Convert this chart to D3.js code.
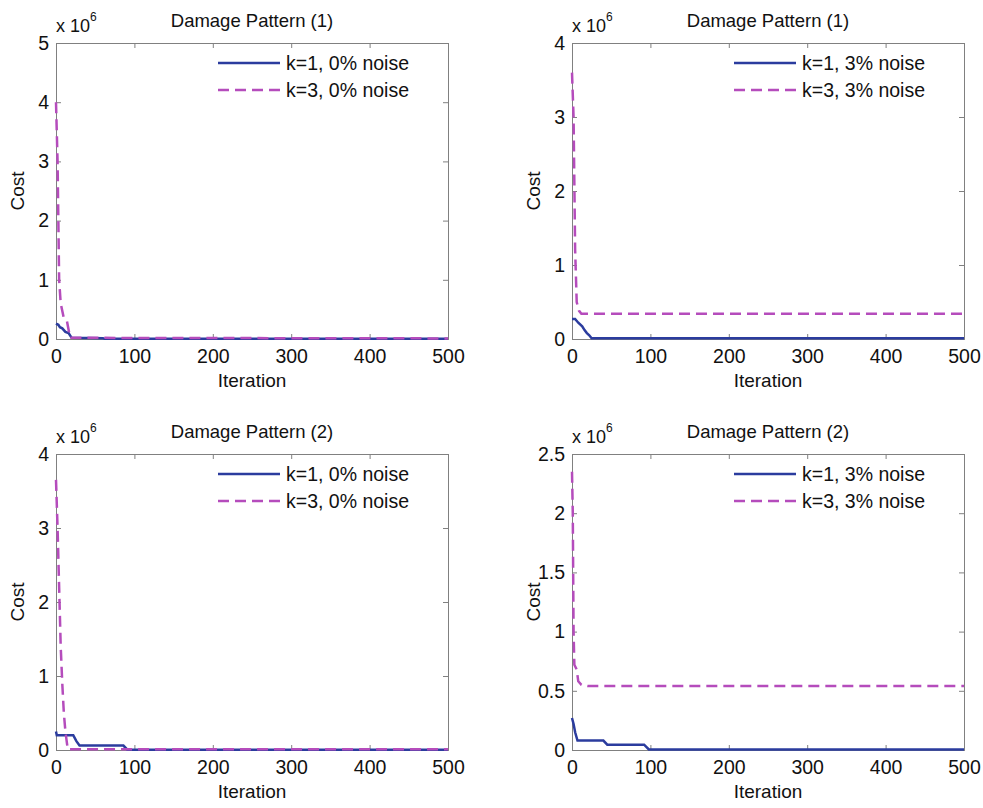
<!DOCTYPE html>
<html>
<head>
<meta charset="utf-8">
<script src="https://cdn.jsdelivr.net/npm/d3@7"></script>
<style>
  body { margin: 0; background: #fff; }
  svg text { font-family: "Liberation Sans", Arial, sans-serif; fill: #111; }
  .axis path, .axis line { stroke: #808080; }
</style>
</head>
<body>
<div class="chart"></div>
<script>
// Data (cost in units of 10^6)
const iterTicks = [0, 100, 200, 300, 400, 500];
const titles = ["Damage Pattern (1)", "Damage Pattern (1)", "Damage Pattern (2)", "Damage Pattern (2)"];
const yMaxes = [5, 4, 4, 2.5];
const yTicks1 = [0, 1, 2, 3, 4, 5];
const yTicks2 = [0, 1, 2, 3, 4];
const yTicks3 = [0, 1, 2, 3, 4];
const yTicks4 = [0, 0.5, 1, 1.5, 2, 2.5];
const legendK1 = ["k=1, 0% noise", "k=1, 3% noise", "k=1, 0% noise", "k=1, 3% noise"];
const legendK3 = ["k=3, 0% noise", "k=3, 3% noise", "k=3, 0% noise", "k=3, 3% noise"];

// [iteration, cost]
const p1k1 = [[0,0.26],[3,0.24],[5,0.2],[8,0.18],[12,0.12],[16,0.1],[20,0.02],[60,0.012],[62,0.003],[500,0.003]];
const p1k3 = [[0,4.0],[2,3.0],[4,1.0],[6,0.6],[10,0.35],[14,0.3],[18,0.02],[500,0.01]];
const p2k1 = [[0,0.27],[4,0.27],[8,0.22],[13,0.17],[16,0.12],[19,0.08],[22,0.05],[25,0.01],[500,0.01]];
const p2k3 = [[0,3.6],[2,3.0],[4,1.2],[6,0.5],[9,0.38],[12,0.34],[500,0.34]];
const p3k1 = [[0,0.25],[1,0.2],[22,0.2],[26,0.12],[30,0.06],[86,0.06],[91,0.005],[500,0.005]];
const p3k3 = [[0,3.65],[2,3.0],[4,2.2],[6,1.4],[8,0.9],[10,0.5],[12,0.25],[15,0.01],[500,0.01]];
const p4k1 = [[0,0.27],[2,0.22],[4,0.15],[7,0.08],[40,0.08],[45,0.045],[92,0.045],[98,0.005],[500,0.005]];
const p4k3 = [[0,2.35],[1,2.0],[2,1.0],[3,0.72],[6,0.68],[8,0.58],[12,0.55],[20,0.54],[500,0.54]];

const seriesK1 = [p1k1, p2k1, p3k1, p4k1];
const seriesK3 = [p1k3, p2k3, p3k3, p4k3];
const yTickSets = [yTicks1, yTicks2, yTicks3, yTicks4];

// Layout
const width = 983, height = 808;
const plotW = 392, plotH = 296;
const origins = [[56, 43], [572, 43], [56, 454], [572, 454]];
const blue = "#2b3c9e";
const magenta = "#b54cbc";

const svg = d3.select(".chart").append("svg")
  .attr("width", width)
  .attr("height", height);

origins.forEach((o, i) => drawPanel(i, o[0], o[1]));

function drawPanel(i, left, top) {
  const g = svg.append("g").attr("transform", `translate(${left},${top})`);

  const x = d3.scaleLinear().domain([0, 500]).range([0, plotW]);
  const y = d3.scaleLinear().domain([0, yMaxes[i]]).range([plotH, 0]);

  const fmt = d => String(d);

  g.append("g").attr("class", "axis")
    .attr("transform", `translate(0,${plotH})`)
    .call(d3.axisBottom(x).tickValues(iterTicks).tickSize(-5).tickPadding(10).tickFormat(fmt))
    .call(a => a.selectAll("text").style("font-size", "19.5px").attr("fill", "#111"));
  g.append("g").attr("class", "axis")
    .call(d3.axisTop(x).tickValues(iterTicks).tickSize(-5).tickFormat(""));
  g.append("g").attr("class", "axis")
    .call(d3.axisLeft(y).tickValues(yTickSets[i]).tickSize(-5).tickPadding(7).tickFormat(fmt))
    .call(a => a.selectAll("text").style("font-size", "19.5px").attr("fill", "#111"));
  g.append("g").attr("class", "axis")
    .attr("transform", `translate(${plotW},0)`)
    .call(d3.axisRight(y).tickValues(yTickSets[i]).tickSize(-5).tickFormat(""));

  g.selectAll(".axis path").attr("stroke", "#808080");

  const line = d3.line().x(d => x(d[0])).y(d => y(d[1]));

  g.append("path").datum(seriesK1[i])
    .attr("d", line)
    .attr("fill", "none")
    .attr("stroke", blue)
    .attr("stroke-width", 2.5);
  g.append("path").datum(seriesK3[i])
    .attr("d", line)
    .attr("fill", "none")
    .attr("stroke", magenta)
    .attr("stroke-width", 2.5)
    .attr("stroke-dasharray", "11,6");

  // title
  g.append("text")
    .attr("x", plotW / 2).attr("y", -16)
    .attr("text-anchor", "middle")
    .style("font-size", "18.5px")
    .text(titles[i]);

  // x 10^6
  const mult = g.append("text").attr("x", 0).attr("y", -11).style("font-size", "18px");
  mult.append("tspan").text("x 10");
  mult.append("tspan").attr("dy", -11).style("font-size", "12px").text("6");

  // axis labels
  g.append("text")
    .attr("x", plotW / 2).attr("y", plotH + 48)
    .attr("text-anchor", "middle")
    .style("font-size", "19px")
    .text("Iteration");
  g.append("text")
    .attr("transform", `translate(-32,${plotH / 2}) rotate(-90)`)
    .attr("text-anchor", "middle")
    .style("font-size", "19px")
    .text("Cost");

  // legend
  const lg = g.append("g").attr("transform", `translate(${plotW - 230},0)`);
  [[legendK1[i], blue, null, 20], [legendK3[i], magenta, "11,6", 47]].forEach(r => {
    lg.append("line")
      .attr("x1", 0).attr("x2", 62)
      .attr("y1", r[3]).attr("y2", r[3])
      .attr("stroke", r[1])
      .attr("stroke-width", 2.5)
      .attr("stroke-dasharray", r[2]);
    lg.append("text")
      .attr("x", 68).attr("y", r[3] + 7)
      .style("font-size", "19.5px")
      .text(r[0]);
  });
}
</script>
</body>
</html>
